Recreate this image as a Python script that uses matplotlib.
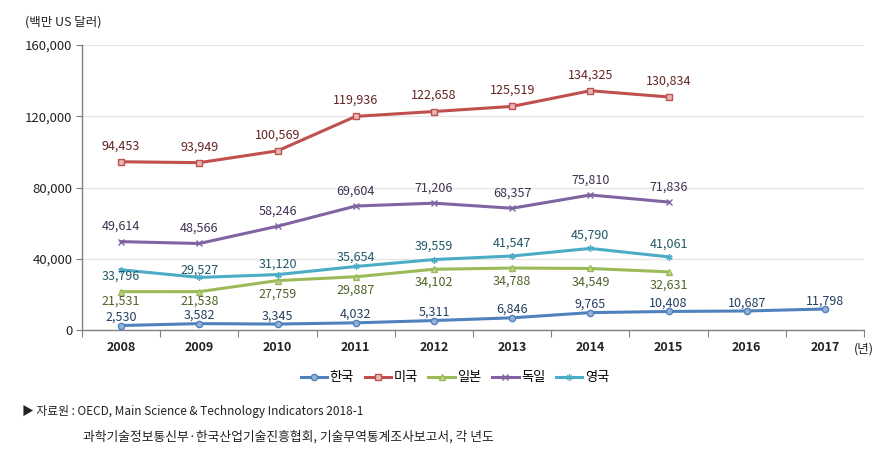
import numpy as np
import matplotlib
matplotlib.use("Agg")
import matplotlib.pyplot as plt

plt.rcParams['font.family'] = ['Noto Sans CJK KR', 'DejaVu Sans']

years = ['2008', '2009', '2010', '2011', '2012', '2013', '2014', '2015', '2016', '2017']

korea = [2530, 3582, 3345, 4032, 5311, 6846, 9765, 10408, 10687, 11798]
usa = [94453, 93949, 100569, 119936, 122658, 125519, 134325, 130834]
japan = [21531, 21538, 27759, 29887, 34102, 34788, 34549, 32631]
germany = [49614, 48566, 58246, 69604, 71206, 68357, 75810, 71836]
uk = [33796, 29527, 31120, 35654, 39559, 41547, 45790, 41061]

y_ticks = [0, 40000, 80000, 120000, 160000]

# name, values, line colour, marker, marker face, label colour, label offsets (pt)
series = [
    ('한국', korea, '#4F81BD', 'o', '#95B3D7', '#243F60', [6] * 10),
    ('미국', usa, '#C0504D', 's', '#E6B9B8', '#632523', [11.5] * 8),
    ('일본', japan, '#9BBB59', '^', '#C3D69B', '#4F6228', [-7] * 2 + [-9.5] * 6),
    ('독일', germany, '#8064A2', 'x', '#8064A2', '#3F3151', [11] * 8),
    ('영국', uk, '#4BACC6', (6, 2, 0), '#4BACC6', '#215968', [-4.5, 5.5, 7.5, 7, 9.5, 9.5, 9.5, 9.5]),
]

fig = plt.figure(figsize=(8.85, 4.54), dpi=100)
ax = fig.add_axes([0.0927, 0.2731, 0.9763 - 0.0927, 0.9009 - 0.2731])

for name, vals, col, mk, mface, lcol, offs in series:
    x = np.arange(len(vals))
    ax.plot(x, vals, color=col, lw=2.2, marker=mk, markersize=4.5,
            markerfacecolor=mface, markeredgecolor=col, markeredgewidth=1.0,
            label=name, zorder=3)
    for xi, v, o in zip(x, vals, offs):
        ax.annotate(f'{v:,}', (xi, v), xytext=(0, o),
                    textcoords='offset points', ha='center',
                    va='center', fontsize=9, color=lcol, zorder=4)

ax.set_xlim(-0.5, 9.5)
ax.set_ylim(0, 160000)
ax.set_yticks(y_ticks)
ax.set_yticklabels([f'{t:,}' for t in y_ticks], fontsize=9.5, color='#222222')
ax.yaxis.grid(True, color='#E6E6E6', lw=0.9)
ax.set_axisbelow(True)

ax.set_xticks(np.arange(-0.5, 10, 1))
ax.set_xticklabels([])
ax.set_xticks(np.arange(10), minor=True)
ax.set_xticklabels(years, minor=True, fontsize=9, fontweight='bold', color='#222222')
ax.tick_params(axis='x', which='major', direction='out', length=5, color='#808080')
ax.tick_params(axis='x', which='minor', length=0, pad=8)
ax.tick_params(axis='y', direction='out', length=4, color='#808080', pad=3)

for s in ['top', 'right']:
    ax.spines[s].set_visible(False)
for s in ['left', 'bottom']:
    ax.spines[s].set_color('#808080')
    ax.spines[s].set_linewidth(1.0)

fig.text(25 / 885, 1 - 22 / 454, '(백만 US 달러)', fontsize=9, va='center', ha='left', color='#222222')
fig.text(864 / 885, 1 - 349 / 454, '(년)', fontsize=9, va='center', ha='center', color='#222222')

fig.legend(loc='center', bbox_to_anchor=(455 / 885, 1 - 378 / 454), ncol=5,
           frameon=False, fontsize=9.5, handlelength=2.0, handletextpad=0.2,
           columnspacing=0.8)

fig.text(22 / 885, 1 - 411 / 454, '▶ 자료원 : OECD, Main Science & Technology Indicators 2018-1',
         fontsize=8.5, va='center', ha='left', color='#222222',
         family=['Noto Sans CJK KR', 'DejaVu Sans'])
fig.text(83 / 885, 1 - 437 / 454, '과학기술정보통신부·한국산업기술진흥협회, 기술무역통계조사보고서, 각 년도',
         fontsize=9.2, va='center', ha='left', color='#222222')

fig.savefig('out.png', dpi=100)
